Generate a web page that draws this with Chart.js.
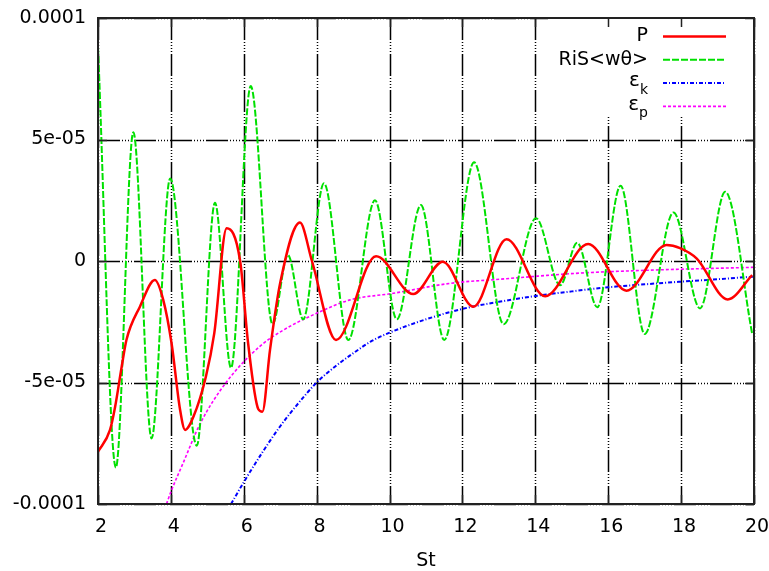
<!DOCTYPE html>
<html>
<head>
<meta charset="utf-8">
<script src="https://cdn.jsdelivr.net/npm/chart.js@4"></script>
<style>
  html, body { margin: 0; padding: 0; background: #fff; }
</style>
</head>
<body>
<canvas id="chart" width="769" height="571"></canvas>
<script>
// values are in units of 1e-5
const SCALE = 1e-5;

const pX = [2.0, 2.33, 2.47, 2.65, 2.78, 3.15, 3.56, 3.79, 4.02, 4.25, 4.39, 4.62, 4.96, 5.19, 5.53, 5.9, 6.12, 6.4, 6.51, 6.72, 7.0, 7.54, 7.87, 8.53, 9.63, 10.65, 11.46, 12.3, 13.21, 14.27, 15.45, 16.5, 17.6, 17.97, 18.43, 19.28, 19.95];
const pY = [-7.85, -6.95, -6.0, -4.35, -3.25, -1.88, -0.78, -1.6, -3.4, -6.1, -6.95, -6.4, -4.76, -2.98, 1.35, 0.0, -3.4, -6.1, -6.2, -3.66, -0.9, 1.58, 0.0, -3.25, 0.2, -1.36, -0.03, -1.88, 0.9, -1.45, 0.7, -1.22, 0.66, 0.53, 0.1, -1.58, -0.58];

const risX = [2.0, 2.49, 2.97, 3.47, 3.98, 4.71, 5.21, 5.65, 6.19, 6.79, 7.21, 7.63, 8.2, 8.87, 9.6, 10.2, 10.86, 11.5, 12.32, 13.13, 14.02, 14.68, 15.15, 15.7, 16.34, 17.0, 17.79, 18.52, 19.21, 19.95];
const risY = [8.8, -8.5, 5.3, -7.3, 3.4, -7.6, 2.4, -4.4, 7.2, -2.6, 0.25, -2.4, 3.2, -3.25, 2.5, -2.4, 2.3, -3.25, 4.06, -2.6, 1.76, -1.0, 0.75, -1.9, 3.1, -3.0, 2.0, -1.95, 2.85, -3.0];

const ekX = [5.65, 6.0, 6.5, 7.0, 7.5, 8.0, 8.5, 9.0, 9.5, 10, 11, 12, 13, 14, 15, 16, 17, 18, 19, 20];
const ekY = [-10.0, -9.1, -7.9, -6.8, -5.85, -5.0, -4.35, -3.8, -3.3, -2.95, -2.4, -1.97, -1.68, -1.44, -1.25, -1.08, -0.96, -0.85, -0.75, -0.64];

const epX = [3.88, 4.0, 4.34, 4.8, 5.53, 6.45, 7.09, 8.0, 8.92, 10.1, 11.66, 13.03, 15.2, 17.3, 20];
const epY = [-10.0, -9.5, -8.3, -6.7, -4.97, -3.5, -2.84, -2.15, -1.6, -1.33, -0.92, -0.75, -0.5, -0.37, -0.26];

const seriesNames = ["P", "RiS<wθ>", "ε", "ε"];
const seriesSubs = ["", "", "k", "p"];

const xTicks = [2, 4, 6, 8, 10, 12, 14, 16, 18, 20];
const yTickValues = [-1e-4, -5e-5, 0, 5e-5, 1e-4];
const yTickLabels = ["-0.0001", "-5e-05", "0", "5e-05", "0.0001"];

const FONT = "DejaVu Sans";

const points = (xs, ys) => xs.map((x, i) => ({ x: x, y: ys[i] * SCALE }));

const line = (label, xs, ys, color, width, dash) => ({
    label: label,
    data: points(xs, ys),
    borderColor: color,
    borderWidth: width,
    borderDash: dash,
    pointRadius: 0,
    fill: false,
    cubicInterpolationMode: "monotone"
});

// on/off runs of a gnuplot grid line: a solid run, then a few dots
const gridPattern = [22, 2, 1, 2, 1, 2, 1, 2, 1, 2];

// adds the "on" pieces of a straight line to the current path by hand
function patternLine(ctx, x1, y1, x2, y2, pattern) {
    const len = Math.hypot(x2 - x1, y2 - y1);
    const ux = (x2 - x1) / len, uy = (y2 - y1) / len;
    let pos = 0, k = 0;
    while (pos < len) {
        const run = Math.min(pattern[k % pattern.length], len - pos);
        if (k % 2 === 0) {
            ctx.moveTo(x1 + ux * pos, y1 + uy * pos);
            ctx.lineTo(x1 + ux * (pos + run), y1 + uy * (pos + run));
        }
        pos += run;
        k++;
    }
}

const gnuplotGrid = {
    id: "gnuplotGrid",
    beforeDatasetsDraw(chart) {
        const ctx = chart.ctx;
        const a = chart.chartArea;
        ctx.save();
        ctx.strokeStyle = "#000";
        ctx.lineWidth = 1.5;
        ctx.beginPath();
        xTicks.forEach(v => {
            const px = Math.round(chart.scales.x.getPixelForValue(v)) + 0.5;
            patternLine(ctx, px, a.top, px, a.bottom, gridPattern);
        });
        yTickValues.forEach(v => {
            const py = Math.round(chart.scales.y.getPixelForValue(v)) + 0.5;
            patternLine(ctx, a.left, py, a.right, py, gridPattern);
        });
        ctx.stroke();
        ctx.restore();
    }
};

// frame, inward ticks and key box
const gnuplotDecor = {
    id: "gnuplotDecor",
    afterDatasetsDraw(chart) {
        const ctx = chart.ctx;
        const a = chart.chartArea;
        const xs = chart.scales.x;
        const ys = chart.scales.y;

        ctx.save();

        // key background
        ctx.fillStyle = "#fff";
        ctx.fillRect(548, a.top + 1, a.right - 549, 97);

        // frame
        ctx.strokeStyle = "#222";
        ctx.lineWidth = 2;
        ctx.strokeRect(a.left, a.top, a.right - a.left, a.bottom - a.top);

        // ticks
        ctx.lineWidth = 1.5;
        ctx.beginPath();
        xTicks.forEach(v => {
            const px = Math.round(xs.getPixelForValue(v)) + 0.5;
            ctx.moveTo(px, a.top); ctx.lineTo(px, a.top + 9);
            ctx.moveTo(px, a.bottom); ctx.lineTo(px, a.bottom - 9);
        });
        yTickValues.forEach(v => {
            const py = Math.round(ys.getPixelForValue(v)) + 0.5;
            ctx.moveTo(a.left, py); ctx.lineTo(a.left + 9, py);
            ctx.moveTo(a.right, py); ctx.lineTo(a.right - 9, py);
        });
        ctx.stroke();

        // key entries
        const textRight = 648;
        chart.data.datasets.forEach((ds, i) => {
            const y = 36.5 + i * 23.3;
            ctx.fillStyle = "#000";
            ctx.textBaseline = "middle";
            ctx.textAlign = "right";
            if (seriesSubs[i]) {
                ctx.font = "14px '" + FONT + "'";
                const subW = ctx.measureText(seriesSubs[i]).width;
                ctx.fillText(seriesSubs[i], textRight, y + 7);
                ctx.font = "20px '" + FONT + "'";
                ctx.fillText(seriesNames[i], textRight - subW, y - 2);
            } else {
                ctx.font = "19px '" + FONT + "'";
                ctx.fillText(seriesNames[i], textRight, y);
            }

            ctx.strokeStyle = ds.borderColor;
            ctx.lineWidth = ds.borderWidth;
            ctx.setLineDash(ds.borderDash || []);
            ctx.beginPath();
            ctx.moveTo(663, y);
            ctx.lineTo(726, y);
            ctx.stroke();
            ctx.setLineDash([]);
        });

        ctx.restore();
    }
};

new Chart(document.getElementById("chart"), {
    type: "line",
    data: {
        datasets: [
            line("P", pX, pY, "#ff0000", 2.5, []),
            line("RiS<wθ>", risX, risY, "#00e000", 2, [7, 2]),
            line("εk", ekX, ekY, "#0000ff", 2, [4, 2, 1, 2]),
            line("εp", epX, epY, "#ff00ff", 1.6, [3, 2])
        ]
    },
    options: {
        responsive: false,
        animation: false,
        devicePixelRatio: 1,
        layout: { padding: { top: 18, right: 15, left: 0, bottom: 0 } },
        plugins: {
            legend: { display: false },
            tooltip: { enabled: false }
        },
        scales: {
            x: {
                type: "linear",
                min: 2,
                max: 20,
                afterBuildTicks: s => { s.ticks = xTicks.map(v => ({ value: v })); },
                afterFit: s => {
                    s.height = 67;
                    s.paddingLeft = 0;
                    s.paddingRight = 0;
                },
                grid: { display: false, drawTicks: false },
                border: { display: false },
                ticks: {
                    padding: 12,
                    labelOffset: 3,
                    color: "#000",
                    maxRotation: 0,
                    font: { family: FONT, size: 19 }
                },
                title: {
                    display: true,
                    text: "St",
                    color: "#000",
                    padding: { top: 0, bottom: 0 },
                    font: { family: FONT, size: 19, lineHeight: 1.0 }
                }
            },
            y: {
                type: "linear",
                min: -1e-4,
                max: 1e-4,
                afterBuildTicks: s => { s.ticks = yTickValues.map(v => ({ value: v })); },
                afterFit: s => {
                    s.width = 98;
                    s.paddingTop = 0;
                    s.paddingBottom = 0;
                },
                grid: { display: false, drawTicks: false },
                border: { display: false },
                ticks: {
                    padding: 12,
                    color: "#000",
                    font: { family: FONT, size: 19 },
                    callback: (v, i) => yTickLabels[i]
                }
            }
        }
    },
    plugins: [gnuplotGrid, gnuplotDecor]
});
</script>
</body>
</html>
